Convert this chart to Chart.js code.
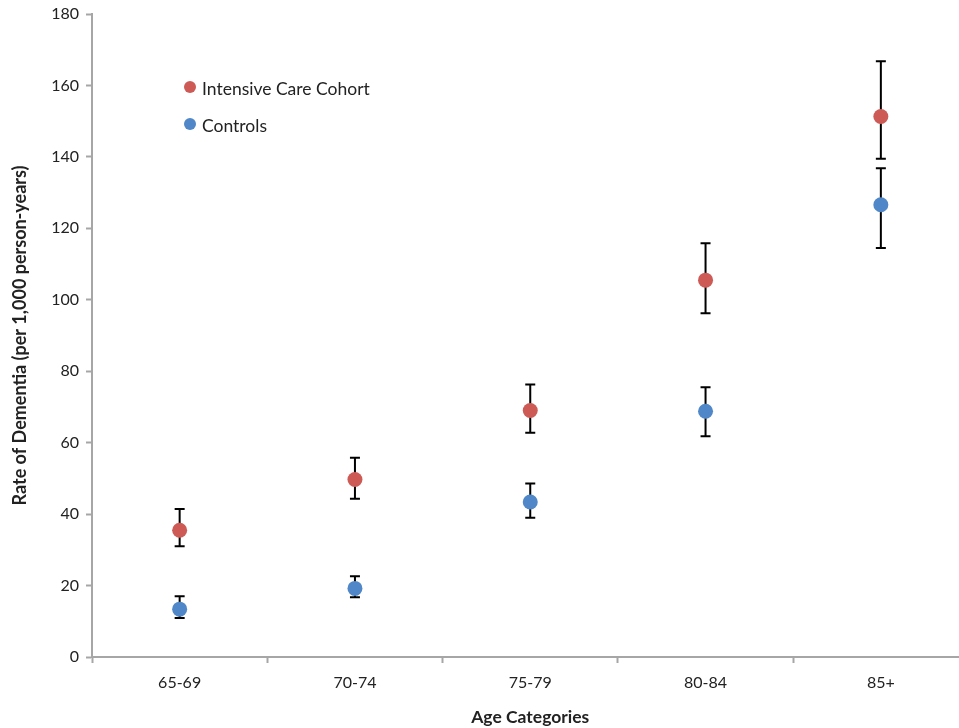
<!DOCTYPE html>
<html>
<head>
<meta charset="utf-8">
<script src="https://cdn.jsdelivr.net/npm/chart.js@4/dist/chart.umd.min.js"></script>
<style>
  html, body { margin: 0; padding: 0; background: #fff; overflow: hidden; }
  #wrap { position: relative; width: 976px; height: 728px; }
</style>
</head>
<body>
<div id="wrap"><canvas id="dementiaChart" width="976" height="728"></canvas></div>
<script>
// age groups on the x axis
const ageCategories = ['65-69', '70-74', '75-79', '80-84', '85+'];

// rates per 1,000 person-years
const icuRates      = [35.5, 49.7, 69.0, 105.5, 151.3];
const icuLower      = [31.0, 44.3, 62.8, 96.2, 139.5];
const icuUpper      = [41.4, 55.8, 76.3, 115.8, 166.8];

const controlRates  = [13.4, 19.2, 43.4, 68.8, 126.6];
const controlLower  = [10.9, 16.7, 39.0, 61.8, 114.5];
const controlUpper  = [17.0, 22.6, 48.6, 75.5, 136.8];

const yTicks = [0, 20, 40, 60, 80, 100, 120, 140, 160, 180];

const axisGray = '#a6a6a6';
const fontFamily = 'Lato, "Open Sans", sans-serif';

// error bars drawn from the low/high arrays through the y scale
const errorBars = {
    id: 'errorBars',
    beforeDatasetsDraw(chart) {
        const ctx = chart.ctx;
        const y = chart.scales.y;
        ctx.save();
        ctx.strokeStyle = '#000';
        ctx.lineWidth = 2;
        chart.data.datasets.forEach((ds, di) => {
            const meta = chart.getDatasetMeta(di);
            meta.data.forEach((pt, i) => {
                const top = y.getPixelForValue(ds.upper[i]);
                const bot = y.getPixelForValue(ds.lower[i]);
                ctx.beginPath();
                ctx.moveTo(pt.x, top); ctx.lineTo(pt.x, bot);
                ctx.moveTo(pt.x - 5, top); ctx.lineTo(pt.x + 5, top);
                ctx.moveTo(pt.x - 5, bot); ctx.lineTo(pt.x + 5, bot);
                ctx.stroke();
            });
        });
        ctx.restore();
    }
};

// legend sits inside the plot, upper left
const innerLegend = {
    id: 'innerLegend',
    afterDraw(chart) {
        const ctx = chart.ctx;
        ctx.save();
        ctx.font = '17.5px ' + fontFamily;
        ctx.textBaseline = 'middle';
        chart.data.datasets.forEach((ds, i) => {
            const cy = 87 + i * 37;
            ctx.fillStyle = ds.backgroundColor;
            ctx.beginPath();
            ctx.arc(190, cy, 6, 0, Math.PI * 2);
            ctx.fill();
            ctx.fillStyle = '#222';
            ctx.fillText(ds.label, 202, cy + 2);
        });
        ctx.restore();
    }
};

new Chart(document.getElementById('dementiaChart'), {
    type: 'line',
    data: {
        labels: ageCategories,
        datasets: [
            {
                label: 'Intensive Care Cohort',
                data: icuRates,
                lower: icuLower,
                upper: icuUpper,
                showLine: false,
                backgroundColor: '#cd5a55',
                borderColor: '#cd5a55',
                pointRadius: 7.5,
                pointBorderWidth: 0
            },
            {
                label: 'Controls',
                data: controlRates,
                lower: controlLower,
                upper: controlUpper,
                showLine: false,
                backgroundColor: '#4f87c8',
                borderColor: '#4f87c8',
                pointRadius: 7.5,
                pointBorderWidth: 0
            }
        ]
    },
    options: {
        responsive: false,
        animation: false,
        layout: { padding: { top: 14, left: 0, right: 0, bottom: 0 } },
        plugins: {
            legend: { display: false },
            tooltip: { enabled: false }
        },
        scales: {
            x: {
                offset: true,
                afterFit(scale) { scale.height = 71; },
                border: { color: axisGray, width: 2 },
                grid: { offset: true, drawOnChartArea: false, drawTicks: true, tickLength: 6, color: axisGray, tickWidth: 2 },
                ticks: { color: '#222', font: { family: fontFamily, size: 16 }, padding: 10 },
                title: {
                    display: true,
                    text: 'Age Categories',
                    color: '#222',
                    font: { family: fontFamily, size: 17.5, weight: 'bold' },
                    padding: { top: 12, bottom: 0 }
                }
            },
            y: {
                min: 0,
                max: 180,
                afterFit(scale) { scale.width = 92; },
                afterBuildTicks(scale) { scale.ticks = yTicks.map(v => ({ value: v })); },
                border: { color: axisGray, width: 2 },
                grid: { drawOnChartArea: false, drawTicks: true, tickLength: 6, color: axisGray, tickWidth: 2 },
                ticks: { color: '#222', font: { family: fontFamily, size: 16, lineHeight: 0.8 }, padding: 7 },
                title: {
                    display: true,
                    text: 'Rate of Dementia (per 1,000 person-years)',
                    color: '#222',
                    font: { family: fontFamily, size: 18, weight: 'bold' },
                    padding: { top: 9, bottom: 0 }
                }
            }
        }
    },
    plugins: [errorBars, innerLegend]
});
</script>
</body>
</html>
